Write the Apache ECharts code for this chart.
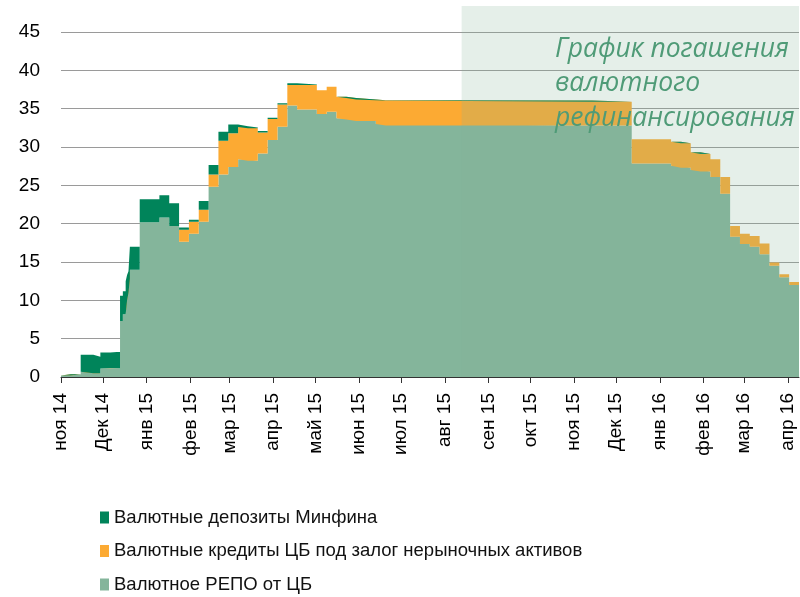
<!DOCTYPE html>
<html>
<head>
<meta charset="utf-8">
<script src="https://cdn.jsdelivr.net/npm/echarts@6/dist/echarts.min.js"></script>
<style>
  html, body { margin: 0; padding: 0; background: #fff; }
  #chart { width: 800px; height: 597px; }
</style>
</head>
<body>
<div id="chart"></div>
<script>
// даты изменения остатков (значение держится до следующей даты)
const dates = [
  '2014-11-01', '2014-11-08', '2014-11-15', '2014-11-24', '2014-11-29', '2014-12-06',
  '2014-12-13', '2014-12-15', '2014-12-17', '2014-12-18', '2014-12-19', '2014-12-20',
  '2014-12-27', '2015-01-10', '2015-01-17', '2015-01-24', '2015-01-31', '2015-02-07',
  '2015-02-14', '2015-02-21', '2015-02-28', '2015-03-07', '2015-03-14', '2015-03-21',
  '2015-03-28', '2015-04-04', '2015-04-11', '2015-04-18', '2015-05-02', '2015-05-09',
  '2015-05-16', '2015-05-23', '2015-05-30', '2015-06-13', '2015-06-20', '2015-11-14',
  '2015-12-12', '2016-01-09', '2016-01-16', '2016-01-23', '2016-01-30', '2016-02-06',
  '2016-02-13', '2016-02-20', '2016-02-27', '2016-03-05', '2016-03-12', '2016-03-19',
  '2016-03-26', '2016-04-02', '2016-04-09'
];
// Валютное РЕПО от ЦБ
const repo = [
  0.2, 0.35, 0.7, 0.5, 1.1, 1.15,
  7.3, 8.2, 10.0, 11.0, 12.8, 14.0,
  20.2, 20.8, 19.7, 17.65, 18.7, 20.25,
  24.8, 26.4, 27.4, 28.4, 28.2, 29.15,
  30.9, 32.65, 35.4, 34.9, 34.3, 34.6,
  33.75, 33.6, 33.4, 33.0, 32.8, 32.8,
  27.85, 27.55, 27.3, 27.0, 26.8, 26.1,
  23.9, 18.3, 17.35, 17.0, 16.0, 14.5,
  13.0, 12.0, 12.0
];
// Валютные кредиты ЦБ под залог нерыночных активов
const credits = [
  0, 0, 0, 0, 0, 0,
  0, 0, 0, 0, 0, 0,
  0, 0, 0, 1.55, 1.55, 1.55,
  1.6, 4.4, 4.4, 4.2, 4.25, 2.75,
  2.75, 2.9, 2.7, 3.2, 3.1, 3.25,
  2.8, 2.8, 2.8, 3.1, 3.25, 3.1,
  3.15, 3.15, 3.2, 2.3, 2.3, 2.3,
  2.2, 1.4, 1.35, 1.4, 1.4, 0.45,
  0.4, 0.4, 0.4
];
// Валютные депозиты Минфина
const minfin = [
  0, 0, 2.2, 2.15, 2.1, 2.15,
  3.3, 3.0, 2.5, 2.3, 1.0, 3.0,
  3.0, 2.9, 2.95, 0.3, 0.25, 1.15,
  1.25, 1.2, 1.15, 0.1, 0.1, 0.2,
  0.15, 0.15, 0.2, 0.05, 0, 0,
  0, 0, 0, 0, 0, 0,
  0, 0, 0, 0, 0, 0,
  0, 0, 0, 0, 0, 0,
  0, 0, 0
];

const monthStarts = [
  '2014-11-01', '2014-12-01', '2015-01-01', '2015-02-01', '2015-03-01', '2015-04-01',
  '2015-05-01', '2015-06-01', '2015-07-01', '2015-08-01', '2015-09-01', '2015-10-01',
  '2015-11-01', '2015-12-01', '2016-01-01', '2016-02-01', '2016-03-01', '2016-04-01'
];
const monthLabels = [
  'ноя 14', 'Дек 14', 'янв 15', 'фев 15', 'мар 15', 'апр 15',
  'май 15', 'июн 15', 'июл 15', 'авг 15', 'сен 15', 'окт 15',
  'ноя 15', 'Дек 15', 'янв 16', 'фев 16', 'мар 16', 'апр 16'
];
const seriesNames = [
  'Валютные депозиты Минфина',
  'Валютные кредиты ЦБ под залог нерыночных активов',
  'Валютное РЕПО от ЦБ'
];
const axisStart = '2014-11-01';
const axisEnd = '2016-04-09';
const scheduleStart = '2015-08-13';
const scheduleText = 'График погашения\nвалютного\nрефинансирования';

// все даты в мс UTC: одна шкала и для ряда (time), и для подписей (value)
const ts = s => Date.parse(s + 'T00:00:00Z');
const tickValues = monthStarts.map(ts);

const chart = echarts.init(document.getElementById('chart'));

function areaSeries(name, values, color) {
  return {
    name: name,
    type: 'line',
    xAxisIndex: 0,
    stack: 'total',
    step: 'end',
    showSymbol: false,
    symbol: 'none',
    lineStyle: { width: 0, color: color },
    areaStyle: { color: color, opacity: 1 },
    itemStyle: { color: color },
    data: dates.map((d, i) => [ts(d), values[i]])
  };
}

const option = {
  animation: false,
  textStyle: { fontFamily: 'Liberation Sans, Arial, sans-serif' },
  grid: { left: 61, right: 1, top: 32, bottom: 220 },
  legend: {
    orient: 'vertical',
    left: 100,
    top: 508,
    padding: 0,
    itemWidth: 9,
    itemHeight: 12,
    itemGap: 14.5,
    icon: 'rect',
    selectedMode: false,
    data: seriesNames,
    textStyle: { fontSize: 18.5, color: '#111', fontFamily: 'Liberation Sans, Arial, sans-serif' }
  },
  xAxis: [
    {
      // ось рядов: время, чтобы стек шёл по y
      type: 'time',
      show: false,
      min: ts(axisStart),
      max: ts(axisEnd)
    },
    {
      // ось подписей месяцев
      type: 'value',
      position: 'bottom',
      min: ts(axisStart),
      max: ts(axisEnd),
      axisLine: { show: true, onZero: false, lineStyle: { color: '#333', width: 1 } },
      axisTick: { show: true, customValues: tickValues, length: 6, lineStyle: { color: '#333' } },
      splitLine: { show: false },
      axisLabel: {
        customValues: tickValues,
        rotate: 90,
        margin: 16,
        fontSize: 19,
        color: '#000',
        formatter: function (val) {
          let best = 0;
          for (let i = 1; i < tickValues.length; i++) {
            if (Math.abs(tickValues[i] - val) < Math.abs(tickValues[best] - val)) best = i;
          }
          return monthLabels[best];
        }
      }
    }
  ],
  yAxis: {
    type: 'value',
    min: 0,
    max: 45,
    interval: 5,
    axisLine: { show: false },
    axisTick: { show: false },
    axisLabel: { fontSize: 19, color: '#000', margin: 21 },
    splitLine: { lineStyle: { color: '#9a9a9a', width: 1 } }
  },
  series: [
    areaSeries(seriesNames[2], repo, '#84B59B'),
    areaSeries(seriesNames[1], credits, '#FCAA33'),
    areaSeries(seriesNames[0], minfin, '#00845A')
  ]
};

chart.setOption(option);

// полупрозрачная зона графика погашения поверх рядов
const x0 = chart.convertToPixel({ xAxisIndex: 1 }, ts(scheduleStart));
const x1 = chart.convertToPixel({ xAxisIndex: 1 }, ts(axisEnd));
const yBottom = chart.convertToPixel({ yAxisIndex: 0 }, 0);
const yTop = chart.convertToPixel({ yAxisIndex: 0 }, 45) - 26;

chart.setOption({
  graphic: [
    {
      type: 'rect',
      z: 100,
      silent: true,
      shape: { x: x0, y: yTop, width: x1 - x0, height: yBottom - yTop },
      style: { fill: 'rgba(131,179,150,0.21)' }
    },
    {
      type: 'text',
      z: 101,
      silent: true,
      x: 555,
      y: 32,
      style: {
        text: scheduleText,
        font: 'italic 26.5px "Open Sans", sans-serif',
        fill: '#4F9B77',
        lineHeight: 34.5,
        verticalAlign: 'top'
      }
    }
  ]
});
</script>
</body>
</html>
